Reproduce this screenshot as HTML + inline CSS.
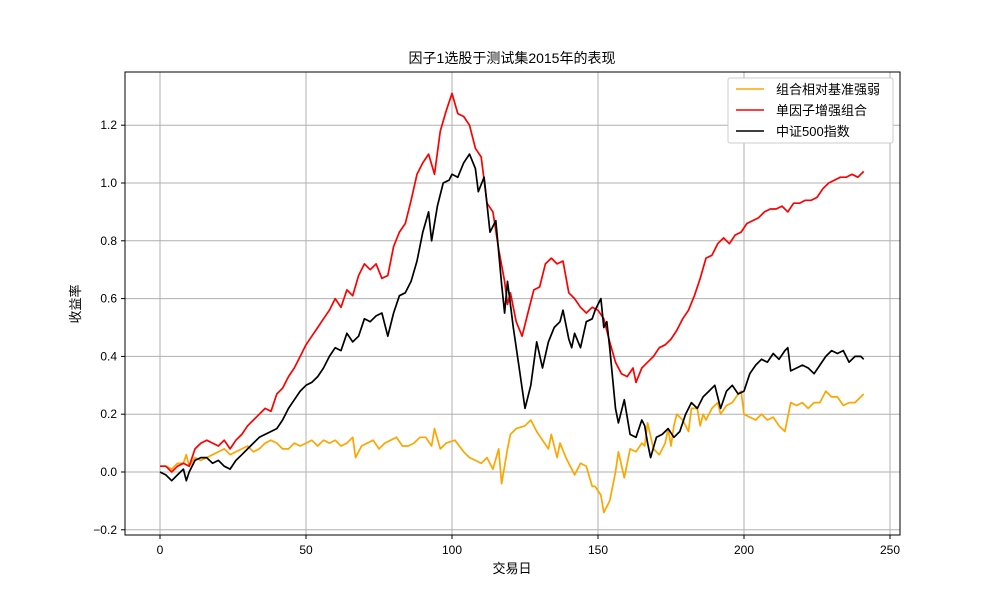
<!DOCTYPE html>
<html><head><meta charset="utf-8"><style>
body{margin:0;background:#fff;}
svg text{font-family:"Liberation Sans","Noto Sans CJK SC",sans-serif;}
</style></head><body>
<svg id="chart" width="1000" height="600" xmlns="http://www.w3.org/2000/svg">
<rect width="1000" height="600" fill="#fff"/>
<text x="512" y="63" text-anchor="middle" font-size="14">因子1选股于测试集2015年的表现</text>
<text x="512" y="573" text-anchor="middle" font-size="13">交易日</text>
<text x="80" y="304" text-anchor="middle" font-size="13" transform="rotate(-90 80 304)">收益率</text>
<g id="grid"></g>
<g id="series"></g>
<rect x="125" y="72" width="775" height="463" fill="none" stroke="#000" stroke-width="1"/>
<g>
<rect x="728" y="78" width="165" height="65" fill="#fff" stroke="#ccc" rx="2"/>
<line x1="736" y1="89" x2="764" y2="89" stroke="orange" stroke-width="1.5"/>
<text x="776" y="94" font-size="13">组合相对基准强弱</text>
<line x1="736" y1="110" x2="764" y2="110" stroke="red" stroke-width="1.5"/>
<text x="776" y="115" font-size="13">单因子增强组合</text>
<line x1="736" y1="131" x2="764" y2="131" stroke="#000" stroke-width="1.5"/>
<text x="776" y="136" font-size="13">中证500指数</text>
</g>
</svg>
<script>
const xTicks=[0,50,100,150,200,250];
const yTicks=[-0.2,0,0.2,0.4,0.6,0.8,1.0,1.2];
const yTickLabels=["−0.2","0.0","0.2","0.4","0.6","0.8","1.0","1.2"];
const blackDays=[0,2,4,6,8,9,10,12,14,16,18,20,22,24,26,28,30,32,34,36,38,40,42,44,46,48,50,52,54,56,58,60,62,64,66,68,70,72,74,76,78,80,82,84,86,88,90,92,93,95,97,99,100,102,104,106,108,109,111,113,115,117,118,119,121,123,125,127,129,131,133,135,137,138,140,141,142,144,146,148,149,150,151,152,153,154,156,157,159,161,163,165,166,167,168,170,172,174,176,178,180,182,184,186,188,190,192,194,196,198,200,202,204,206,208,210,212,214,215,216,218,220,222,224,226,228,230,232,234,236,238,240,241];
const blackVals=[0,-0.01,-0.03,-0.01,0.01,-0.03,0,0.04,0.05,0.05,0.03,0.04,0.02,0.01,0.04,0.06,0.08,0.10,0.12,0.13,0.14,0.15,0.18,0.22,0.25,0.28,0.30,0.31,0.33,0.36,0.40,0.43,0.42,0.48,0.45,0.47,0.53,0.52,0.54,0.55,0.47,0.55,0.61,0.62,0.66,0.73,0.83,0.90,0.80,0.92,1.00,1.01,1.03,1.02,1.07,1.10,1.05,0.97,1.02,0.83,0.87,0.65,0.55,0.66,0.50,0.36,0.22,0.30,0.45,0.36,0.45,0.50,0.52,0.56,0.46,0.43,0.48,0.43,0.52,0.53,0.56,0.58,0.60,0.50,0.52,0.43,0.22,0.17,0.25,0.13,0.12,0.18,0.16,0.10,0.05,0.12,0.13,0.15,0.12,0.14,0.20,0.24,0.22,0.26,0.28,0.30,0.22,0.28,0.30,0.27,0.28,0.34,0.37,0.39,0.38,0.41,0.39,0.42,0.43,0.35,0.36,0.37,0.36,0.34,0.37,0.40,0.42,0.41,0.42,0.38,0.40,0.40,0.39];
const redDays=[0,2,4,6,8,10,12,14,16,18,20,22,24,26,28,30,32,34,36,38,40,42,44,46,48,50,52,54,56,58,60,62,64,66,68,70,72,74,76,78,80,82,84,86,88,90,92,94,96,98,100,102,104,106,108,110,112,114,116,118,119,120,122,124,126,128,130,132,134,136,138,140,142,144,146,148,150,152,154,156,158,160,162,163,165,167,169,171,173,175,177,179,181,183,185,187,189,191,193,195,197,199,201,203,205,207,209,211,213,215,217,219,221,223,225,227,229,231,233,235,237,239,241];
const redVals=[0.02,0.02,0,0.02,0.03,0.02,0.08,0.10,0.11,0.10,0.09,0.11,0.08,0.11,0.13,0.16,0.18,0.20,0.22,0.21,0.27,0.29,0.33,0.36,0.40,0.44,0.47,0.50,0.53,0.56,0.60,0.57,0.63,0.61,0.68,0.72,0.70,0.72,0.67,0.68,0.78,0.83,0.86,0.94,1.03,1.07,1.10,1.03,1.18,1.25,1.31,1.24,1.23,1.20,1.12,1.09,0.93,0.90,0.77,0.66,0.58,0.62,0.52,0.47,0.55,0.63,0.64,0.72,0.74,0.72,0.73,0.62,0.60,0.57,0.55,0.57,0.56,0.53,0.45,0.38,0.34,0.33,0.36,0.31,0.36,0.38,0.40,0.43,0.44,0.46,0.49,0.53,0.56,0.61,0.67,0.74,0.75,0.79,0.81,0.79,0.82,0.83,0.86,0.87,0.88,0.90,0.91,0.91,0.92,0.90,0.93,0.93,0.94,0.94,0.95,0.98,1.00,1.01,1.02,1.02,1.03,1.02,1.04];
const orangeDays=[0,2,4,6,8,9,10,12,14,16,18,20,22,24,26,28,30,32,34,36,38,40,42,44,46,48,50,52,54,56,58,60,62,64,66,67,69,71,73,75,77,79,81,83,85,87,89,91,93,94,96,98,101,104,106,108,110,112,114,116,117,119,120,122,125,127,129,131,133,134,136,137,139,142,144,146,148,149,151,152,154,156,157,159,161,163,165,166,167,169,171,173,174,175,176,177,179,181,182,184,185,186,187,189,191,192,194,196,198,199,200,202,204,206,208,210,212,214,216,218,220,222,224,226,228,230,232,234,236,238,240,241];
const orangeVals=[0.02,0.02,0.01,0.03,0.03,0.06,0.02,0.05,0.04,0.05,0.06,0.07,0.08,0.06,0.07,0.08,0.09,0.07,0.08,0.10,0.11,0.10,0.08,0.08,0.10,0.09,0.10,0.11,0.09,0.11,0.10,0.11,0.09,0.10,0.12,0.05,0.09,0.10,0.11,0.08,0.10,0.11,0.12,0.09,0.09,0.10,0.12,0.12,0.09,0.15,0.08,0.10,0.11,0.07,0.05,0.04,0.03,0.05,0.01,0.08,-0.04,0.08,0.13,0.15,0.16,0.18,0.14,0.11,0.08,0.13,0.05,0.10,0.05,-0.01,0.03,0.02,-0.05,-0.05,-0.08,-0.14,-0.10,0.0,0.07,-0.02,0.08,0.07,0.10,0.09,0.17,0.08,0.06,0.10,0.15,0.09,0.16,0.20,0.18,0.14,0.22,0.22,0.16,0.20,0.18,0.22,0.24,0.20,0.23,0.24,0.27,0.28,0.20,0.19,0.18,0.20,0.18,0.19,0.16,0.14,0.24,0.23,0.24,0.22,0.24,0.24,0.28,0.26,0.26,0.23,0.24,0.24,0.26,0.27];

const NS="http://www.w3.org/2000/svg";
const X0=160,XS=2.92,Y0=472,YS=289;
function xScale(d){return X0+d*XS;}
function yScale(v){return Y0-v*YS;}
const grid=document.getElementById('grid');
const svg=document.getElementById('chart');
xTicks.forEach(t=>{
  const x=xScale(t);
  const l=document.createElementNS(NS,'line');
  l.setAttribute('x1',x);l.setAttribute('x2',x);l.setAttribute('y1',72);l.setAttribute('y2',535);
  l.setAttribute('stroke','#b0b0b0');l.setAttribute('stroke-width','1');
  
  
  grid.appendChild(l);
  const tk=document.createElementNS(NS,'line');
  tk.setAttribute('x1',x);tk.setAttribute('x2',x);tk.setAttribute('y1',535);tk.setAttribute('y2',539);tk.setAttribute('stroke','#000');
  
  
  svg.appendChild(tk);
  const tx=document.createElementNS(NS,'text');
  tx.setAttribute('x',x);tx.setAttribute('y',554);tx.setAttribute('text-anchor','middle');tx.setAttribute('font-size','12');
  tx.textContent=t;
  
  
  svg.appendChild(tx);
});
yTicks.forEach((t,i)=>{
  const y=yScale(t);
  const l=document.createElementNS(NS,'line');
  l.setAttribute('x1',125);l.setAttribute('x2',900);l.setAttribute('y1',y);l.setAttribute('y2',y);
  l.setAttribute('stroke','#b0b0b0');l.setAttribute('stroke-width','1');
  
  
  grid.appendChild(l);
  const tk=document.createElementNS(NS,'line');
  tk.setAttribute('x1',121);tk.setAttribute('x2',125);tk.setAttribute('y1',y);tk.setAttribute('y2',y);tk.setAttribute('stroke','#000');
  
  
  svg.appendChild(tk);
  const tx=document.createElementNS(NS,'text');
  tx.setAttribute('x',117);tx.setAttribute('y',y+4);tx.setAttribute('text-anchor','end');tx.setAttribute('font-size','12');
  tx.textContent=yTickLabels[i];
  
  
  svg.appendChild(tx);
});
const sg=document.getElementById('series');
function drawLine(days,vals,color,name){
  const p=document.createElementNS(NS,'polyline');
  p.setAttribute('points',days.map((d,i)=>xScale(d).toFixed(1)+','+yScale(vals[i]).toFixed(1)).join(' '));
  p.setAttribute('fill','none');p.setAttribute('stroke',color);p.setAttribute('stroke-width','1.7');p.setAttribute('stroke-linejoin','round');
  
  
  sg.appendChild(p);
}
drawLine(orangeDays,orangeVals,'orange','line-relative-strength');
drawLine(redDays,redVals,'red','line-factor-portfolio');
drawLine(blackDays,blackVals,'#000','line-csi500-index');
</script>
</body></html>
